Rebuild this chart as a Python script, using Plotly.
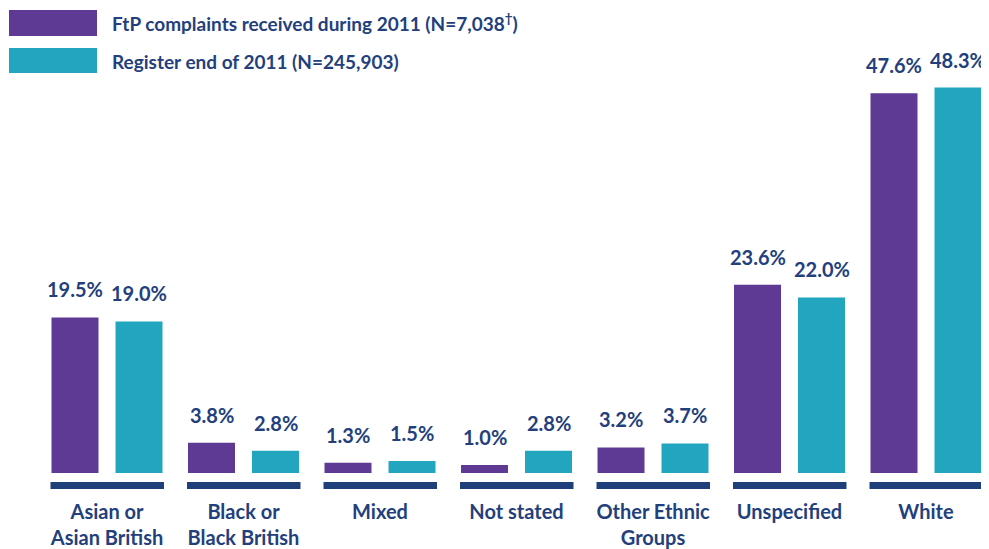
import plotly.graph_objects as go

categories = ["Asian or<br>Asian British", "Black or<br>Black British", "Mixed", "Not stated",
              "Other Ethnic<br>Groups", "Unspecified", "White"]
series_names = ["FtP complaints received during 2011 (N=7,038<sup>†</sup>)",
                "Register end of 2011 (N=245,903)"]
ftp_values = [19.5, 3.8, 1.3, 1.0, 3.2, 23.6, 47.6]
register_values = [19.0, 2.8, 1.5, 2.8, 3.7, 22.0, 48.3]

PURPLE = "#5e3a94"
TEAL = "#22a6c0"
NAVY = "#233f7c"
FONT = "Lato"

# page body has an 8px default margin: work in window pixels, then shift
OFF = 8
W, H = 989 - OFF, 549 - OFF
ML, MR, MT, MB = 10 - OFF, 0, 60 - OFF, 54
plot_w = W - ML - MR
plot_h = H - MT - MB

px_per_unit = 136.5
x0_center_px = 107 - OFF
xr = [(ML - x0_center_px) / px_per_unit, (W - MR - x0_center_px) / px_per_unit]
px_per_pct = 7.98
base_px = 473 - OFF
yr = [(base_px - (H - MB)) / px_per_pct, (base_px - MT) / px_per_pct]

bar_w = 47 / px_per_unit
half_gap = 8.5 / px_per_unit
xs = list(range(len(categories)))

fig = go.Figure()
fig.add_trace(go.Bar(x=xs, y=ftp_values, width=bar_w, offset=-(half_gap + bar_w),
                     marker=dict(color=PURPLE, line=dict(width=0)), name=series_names[0],
                     showlegend=False))
fig.add_trace(go.Bar(x=xs, y=register_values, width=bar_w, offset=half_gap,
                     marker=dict(color=TEAL, line=dict(width=0)), name=series_names[1],
                     showlegend=False))

label_font = dict(family=FONT, size=20, color=NAVY, weight="bold")
annotations = []
for i, (a, b) in enumerate(zip(ftp_values, register_values)):
    annotations.append(dict(x=i - half_gap - bar_w / 2, y=a, xref="x", yref="y",
                            text=f"{a:.1f}%", showarrow=False, yanchor="middle", yshift=28,
                            font=label_font))
    annotations.append(dict(x=i + half_gap + bar_w / 2, y=b, xref="x", yref="y",
                            text=f"{b:.1f}%", showarrow=False, yanchor="middle", yshift=28,
                            font=label_font))

shapes = []
for i in xs:
    shapes.append(dict(type="rect", xref="x", yref="y",
                       x0=i - 56.5 / px_per_unit, x1=i + 57 / px_per_unit,
                       y0=-(489 - 473) / px_per_pct, y1=-(482 - 473) / px_per_pct,
                       fillcolor="#1f3f7a", line=dict(width=0), layer="above"))

def px_x(p):
    return (p - OFF - ML) / plot_w

def px_y(p):
    return (H - MB - (p - OFF)) / plot_h

legend_rows = [(series_names[0], PURPLE, 10, 36, 23), (series_names[1], TEAL, 48, 73, 61)]
for name, col, top, bot, mid in legend_rows:
    shapes.append(dict(type="rect", xref="paper", yref="paper",
                       x0=px_x(9), x1=px_x(97), y0=px_y(bot), y1=px_y(top),
                       fillcolor=col, line=dict(width=0)))
    annotations.append(dict(x=px_x(110), y=px_y(mid), xref="paper", yref="paper",
                            xanchor="left", yanchor="middle", text=name, showarrow=False,
                            font=dict(family=FONT, size=19, color=NAVY, weight="bold")))

fig.update_layout(
    width=W, height=H,
    margin=dict(l=ML, r=MR, t=MT, b=MB, pad=0),
    paper_bgcolor="white", plot_bgcolor="white",
    barmode="overlay",
    xaxis=dict(range=xr, tickvals=xs, ticktext=categories, showgrid=False, zeroline=False,
               showline=False, ticks="", ticklabelstandoff=3,
               tickfont=dict(family=FONT, size=20, color=NAVY, weight="bold"),
               fixedrange=True),
    yaxis=dict(range=yr, showgrid=False, zeroline=False, showline=False, showticklabels=False,
               ticks="", fixedrange=True),
    annotations=annotations,
    shapes=shapes,
    showlegend=False,
)

fig.write_html("out.html", config={"displayModeBar": False})
